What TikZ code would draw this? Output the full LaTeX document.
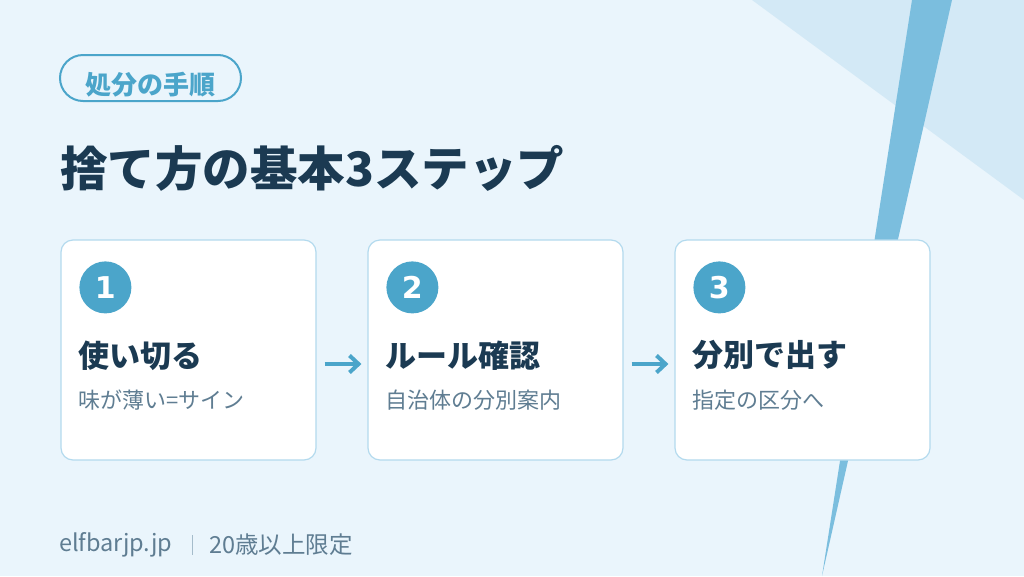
\documentclass[tikz,border=0pt]{standalone}
\usepackage{fontspec}
\setmainfont{Noto Sans CJK JP}
\newfontfamily\digitfont{DejaVu Sans}
\usetikzlibrary{arrows.meta, calc, positioning}

\definecolor{bgblue}{HTML}{EAF5FC}
\definecolor{paleblue}{HTML}{D3E9F6}
\definecolor{stripeblue}{HTML}{7BBEDE}
\definecolor{accent}{HTML}{4BA5CA}
\definecolor{navy}{HTML}{1B3A52}
\definecolor{slate}{HTML}{5F7D92}
\definecolor{cardline}{HTML}{B3DAEE}
\definecolor{sepgray}{HTML}{A5BCCB}

\begin{document}
\begin{tikzpicture}[x=1pt, y=-1pt,
    card/.style={draw=cardline, line width=1.2pt, fill=white, rounded corners=12pt,
        minimum width=255pt, minimum height=220pt, inner sep=0pt},
    numdot/.style={circle, fill=accent, minimum size=52pt, inner sep=0pt, text=white,
        font=\digitfont\fontsize{30}{30}\selectfont\bfseries},
    steptitle/.style={anchor=west, inner sep=0pt, text=navy,
        font=\fontsize{31}{31}\selectfont\bfseries},
    stepnote/.style={anchor=west, inner sep=0pt, text=slate,
        font=\fontsize{22}{22}\selectfont},
    flow/.style={-{Straight Barb[length=9pt, width=17pt]}, line width=4pt, accent,
        shorten <=8pt, shorten >=6pt},
    footnote/.style={anchor=west, inner sep=0pt, text=slate,
        font=\fontsize{23.5}{23.5}\selectfont}]

    % Canvas
    \useasboundingbox (0,0) rectangle (1024,576);
    \fill[bgblue] (0,0) rectangle (1024,576);

    % Corner decoration
    \fill[paleblue] (752,0) -- (1024,0) -- (1024,200) -- cycle;
    \fill[stripeblue] (912,0) -- (952,0) -- (822,576) -- cycle;

    % Badge
    \node[draw=accent, line width=2pt, rounded corners=23pt, minimum width=181pt,
        minimum height=46pt, inner sep=0pt] (badge) at (150.5,78) {};
    \node[inner sep=0pt, text=accent, font=\fontsize{26}{26}\selectfont\bfseries]
        (badgetext) at (150.5,84.5) {処分の手順};

    % Title
    \node[anchor=west, inner sep=0pt, text=navy,
        font=\fontsize{47.5}{47.5}\selectfont\bfseries] (title) at (60,168)
        {捨て方の基本3ステップ};

    % Step cards
    \foreach \i/\x/\head/\note in {1/188.5/使い切る/味が薄い=サイン,
                                   2/495.5/ルール確認/自治体の分別案内,
                                   3/802.5/分別で出す/指定の区分へ}{
        \node[card] (card\i) at (\x,350) {};
        \node[numdot] (num\i) at ($(card\i.north west)+(45,48)$) {\raisebox{-3pt}{\i}};
        \node[steptitle] (head\i) at ($(card\i.north west)+(18,116)$) {\head};
        \node[stepnote] (note\i) at ($(card\i.north west)+(18,161)$) {\note};
    }

    % Arrows
    \draw[flow] ([yshift=-14pt]card1.east) -- ([yshift=-14pt]card2.west);
    \draw[flow] ([yshift=-14pt]card2.east) -- ([yshift=-14pt]card3.west);

    % Footer
    \node[footnote] (site) at (59,545) {elfbarjp.jp};
    \node[footnote] (age) at (209,545) {20歳以上限定};
    \draw[sepgray, line width=1pt] ([xshift=20pt, yshift=10pt]site.east)
        -- ([xshift=20pt, yshift=-10pt]site.east);

\end{tikzpicture}
\end{document}
